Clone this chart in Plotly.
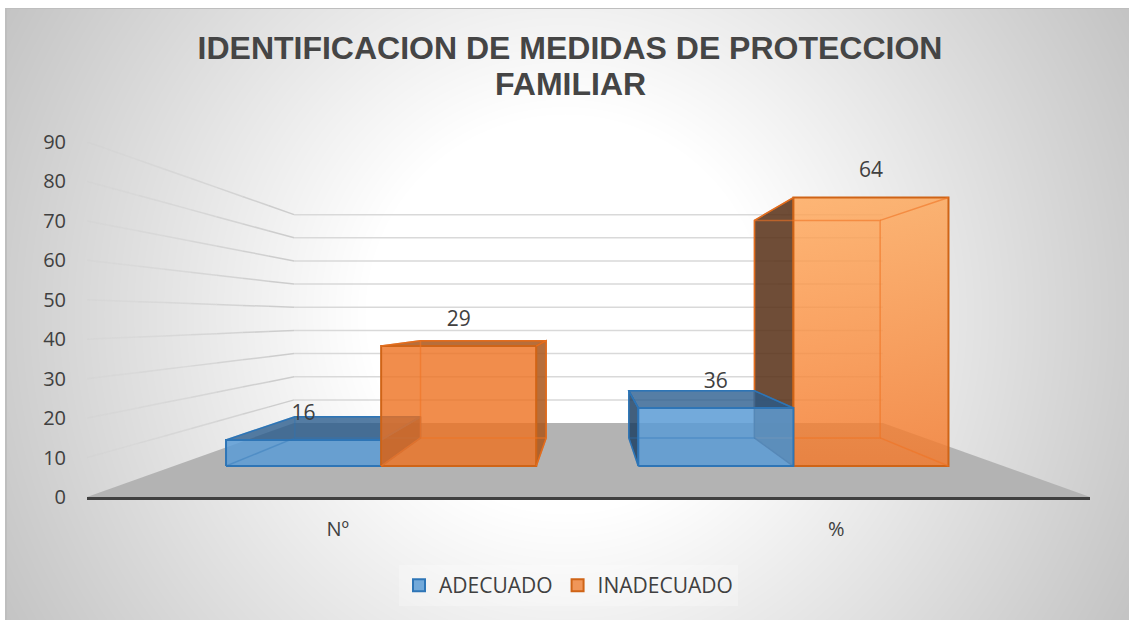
import base64, struct, zlib
import numpy as np
import plotly.graph_objects as go

# ---- data ----
categories = ["Nº", "%"]
series_names = ["ADECUADO", "INADECUADO"]
adecuado_labels = [16, 36]
inadecuado_labels = [29, 64]
# height of each bar as drawn against the value axis (the picture's bars do not follow their labels)
adecuado_heights = [8.0, 17.8]
inadecuado_heights = [36.8, 82.3]
value_ticks = [0, 10, 20, 30, 40, 50, 60, 70, 80, 90]
title_lines = ["IDENTIFICACION DE MEDIDAS DE PROTECCION", "FAMILIAR"]

# ---- perspective of the 3-D box ----
XC, VC = 1.0, 45.4          # vanishing point in axis units
S_WALL, S_FRONT, S_BACK = 0.587, 0.827, 0.67
BAR_W = 0.374
CAT_POS = [0.5, 1.494]


def proj(x, v, s):
    return XC + (x - XC) * s, VC + (v - VC) * s


def poly(points, fill=None, line=None, width=0, gradient=None):
    xs, ys = zip(*[proj(*p) for p in points])
    kw = dict(x=list(xs) + [xs[0]], y=list(ys) + [ys[0]], mode="lines", showlegend=False, hoverinfo="skip")
    kw["line"] = dict(color=line or "rgba(0,0,0,0)", width=width)
    if fill or gradient:
        kw["fill"] = "toself"
        kw["fillcolor"] = fill or "rgba(0,0,0,0)"
    if gradient:
        kw["fillgradient"] = gradient
    return go.Scatter(**kw)


# ---- background gradient, generated as a PNG ----
W, H = 1124, 612
yy, xx = np.mgrid[0:H, 0:W]
r = np.hypot(xx + 5 - 565, yy + 8 - 314)
g = 255 - 59 * np.clip((r - 200) / 440.0, 0, 1)
img = g.astype(np.uint8)
img[0:1, :] = 190
img[:, 0:2] = 190
raw = b"".join(b"\x00" + img[i].tobytes() for i in range(H))


def chunk(tag, data):
    return struct.pack(">I", len(data)) + tag + data + struct.pack(">I", zlib.crc32(tag + data))


png = b"\x89PNG\r\n\x1a\n" + chunk(b"IHDR", struct.pack(">IIBBBBB", W, H, 8, 0, 0, 0, 0)) \
    + chunk(b"IDAT", zlib.compress(raw, 9)) + chunk(b"IEND", b"")
bg_uri = "data:image/png;base64," + base64.b64encode(png).decode()

fig = go.Figure()

# floor
fig.add_trace(poly([(0, 0, 1), (2, 0, 1), (2, 0, S_WALL), (0, 0, S_WALL)], fill="#b3b3b3"))

# gridlines: back wall and fading left wall
for v in value_ticks[1:]:
    x0, y0 = proj(0, v, S_WALL)
    x1, y1 = proj(2, v, S_WALL)
    fig.add_trace(go.Scatter(x=[x0, x1], y=[y0, y1], mode="lines", showlegend=False, hoverinfo="skip",
                             line=dict(color="#d9d9d9", width=1.5)))
    n = 8
    for i in range(n):
        a, b = i / n, (i + 1) / n
        sa, sb = 1 + (S_WALL - 1) * a, 1 + (S_WALL - 1) * b
        xa, ya = proj(0, v, sa)
        xb, yb = proj(0, v, sb)
        fig.add_trace(go.Scatter(x=[xa, xb], y=[ya, yb], mode="lines", showlegend=False, hoverinfo="skip",
                                 line=dict(color=f"rgba(205,205,205,{0.1 + 0.9 * (i + 1) / n:.2f})", width=1.5)))

STYLE = {
    0: dict(front="rgba(91,155,213,0.85)", top="rgba(38,90,140,0.78)", side="rgba(25,60,95,0.82)",
            edge="#2e75b6", hidden="rgba(46,117,182,0.4)"),
    1: dict(front="rgba(237,112,31,0.8)", top="rgba(170,85,25,0.85)", side="rgba(170,85,25,0.85)",
            edge="#cf6417", hidden="rgba(240,115,35,0.6)"),
}


def add_bar(x0, x1, h, st, dark_left=None, gradient=None):
    s0, s1 = S_FRONT, S_BACK
    # side that faces the viewer
    side_x = x1 if (x0 + x1) / 2 < XC else x0
    side_col = dark_left or st["side"]
    fig.add_trace(poly([(side_x, 0, s0), (side_x, h, s0), (side_x, h, s1), (side_x, 0, s1)],
                       fill=side_col, line=st["edge"], width=1.5))
    # lid, only when seen from above
    if h < VC:
        fig.add_trace(poly([(x0, h, s0), (x1, h, s0), (x1, h, s1), (x0, h, s1)],
                           fill=st["top"], line=st["edge"], width=1.5))
    # front
    fig.add_trace(poly([(x0, 0, s0), (x1, 0, s0), (x1, h, s0), (x0, h, s0)],
                       fill=st["front"], line=st["edge"], width=2, gradient=gradient))
    # hidden edges, seen through the translucent front
    for pts in ([(x0, 0, s1), (x1, 0, s1), (x1, h, s1), (x0, h, s1)],
                [(x0, 0, s0), (x0, 0, s1)], [(x1, 0, s0), (x1, 0, s1)],
                [(x0, h, s0), (x0, h, s1)], [(x1, h, s0), (x1, h, s1)]):
        xs, ys = zip(*[proj(*p) for p in pts])
        closed = len(pts) > 2
        fig.add_trace(go.Scatter(x=list(xs) + ([xs[0]] if closed else []), y=list(ys) + ([ys[0]] if closed else []),
                                 mode="lines", showlegend=False, hoverinfo="skip",
                                 line=dict(color=st["hidden"], width=1.5)))


tall_gradient = dict(type="vertical",
                     colorscale=[[0, "rgba(245,119,39,0.8)"], [1, "rgba(255,165,85,0.8)"]])

# first category: left bar first; second category: right bar first
add_bar(CAT_POS[0] - BAR_W, CAT_POS[0], adecuado_heights[0], STYLE[0])
add_bar(CAT_POS[0], CAT_POS[0] + BAR_W, inadecuado_heights[0], STYLE[1])
add_bar(CAT_POS[1], CAT_POS[1] + BAR_W, inadecuado_heights[1], STYLE[1],
        dark_left="rgba(90,50,25,0.87)", gradient=tall_gradient)
add_bar(CAT_POS[1] - BAR_W, CAT_POS[1], adecuado_heights[1], STYLE[0])

# data labels
lx, ly, lt = [], [], []
for i in range(2):
    cx = CAT_POS[i]
    for x_mid, h, lab in ((cx - BAR_W / 2, adecuado_heights[i], adecuado_labels[i]),
                          (cx + BAR_W / 2, inadecuado_heights[i], inadecuado_labels[i])):
        px, py = proj(x_mid, h, S_FRONT)
        lx.append(px)
        ly.append(py + 6.5)
        lt.append(str(lab))
fig.add_trace(go.Scatter(x=lx, y=ly, text=lt, mode="text", showlegend=False, hoverinfo="skip",
                         textposition="middle center",
                         textfont=dict(family="Open Sans", size=21, color="#404040")))

# legend keys
fig.add_trace(go.Bar(x=[None], y=[None], name=series_names[0],
                     marker=dict(color="rgba(91,155,213,0.85)", line=dict(color="#2e75b6", width=2))))
fig.add_trace(go.Bar(x=[None], y=[None], name=series_names[1],
                     marker=dict(color="rgba(237,125,49,0.8)", line=dict(color="#cf6417", width=2))))

fig.update_layout(
    width=1129, height=620, autosize=False,
    margin=dict(l=87, r=39, t=142, b=123, pad=0),
    paper_bgcolor="white", plot_bgcolor="rgba(0,0,0,0)",
    title=dict(text=title_lines[0],
               x=570 / 1129, xanchor="center", y=1 - 48 / 620, yanchor="middle",
               font=dict(family="Liberation Sans", size=32, color="#454545", weight="bold")),
    annotations=[dict(text=title_lines[1], xref="paper", yref="paper",
                      x=(570 - 87) / 1003, y=(497 - 84) / 355, xanchor="center", yanchor="middle",
                      showarrow=False,
                      font=dict(family="Liberation Sans", size=32, color="#454545", weight="bold"))],
    xaxis=dict(range=[0, 2], tickmode="array", tickvals=CAT_POS, ticktext=categories,
               showgrid=False, zeroline=False, showline=True, linecolor="#404040", linewidth=3,
               ticks="outside", ticklen=12, tickcolor="rgba(0,0,0,0)",
               tickfont=dict(family="Open Sans", size=20, color="#404040")),
    yaxis=dict(range=[0, 90], tickmode="array", tickvals=value_ticks,
               showgrid=False, zeroline=False, showline=False,
               ticks="outside", ticklen=16, tickcolor="rgba(0,0,0,0)",
               tickfont=dict(family="Open Sans", size=20, color="#404040")),
    legend=dict(orientation="h", x=399 / 1129, xref="container", xanchor="left",
                y=1 - 565 / 620, yref="container", yanchor="top",
                bgcolor="rgba(255,255,255,0.25)",
                font=dict(family="Open Sans", size=21, color="#404040")),
    images=[dict(source=bg_uri, xref="paper", yref="paper", x=(5 - 87) / 1003, y=(497 - 8) / 355,
                 sizex=1124 / 1003, sizey=612 / 355, sizing="stretch", xanchor="left", yanchor="top",
                 layer="below")],
)
fig.write_html("out.html", config={"displayModeBar": False},
               post_script="document.body.style.margin='0';")
